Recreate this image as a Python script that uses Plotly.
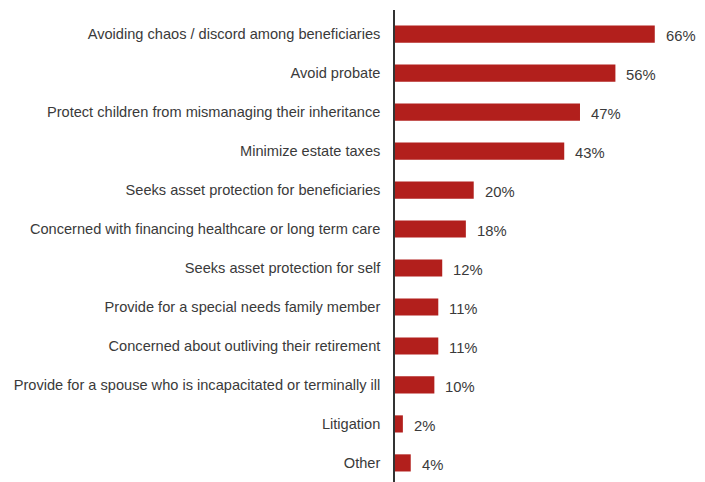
import plotly.graph_objects as go

categories = [
    "Avoiding chaos / discord among beneficiaries",
    "Avoid probate",
    "Protect children from mismanaging their inheritance",
    "Minimize estate taxes",
    "Seeks asset protection for beneficiaries",
    "Concerned with financing healthcare or long term care",
    "Seeks asset protection for self",
    "Provide for a special needs family member",
    "Concerned about outliving their retirement",
    "Provide for a spouse who is incapacitated or terminally ill",
    "Litigation",
    "Other",
]
values = [66, 56, 47, 43, 20, 18, 12, 11, 11, 10, 2, 4]
value_labels = [f"{v}%" for v in values]

BAR_COLOR = "#B21F1C"
FONT = "Liberation Sans, Arial, sans-serif"
TEXT_COLOR = "#3a3a3a"

fig = go.Figure(
    go.Bar(
        x=values,
        y=categories,
        orientation="h",
        marker=dict(color=BAR_COLOR, line=dict(width=0)),
        width=0.44,
        hoverinfo="skip",
    )
)

for cat, v, lab in zip(categories, values, value_labels):
    fig.add_annotation(
        x=v, y=cat, text=lab, showarrow=False,
        xanchor="left", xshift=9, yshift=-2,
        font=dict(family=FONT, size=14.8, color=TEXT_COLOR),
    )

fig.update_layout(
    width=705, height=482,
    margin=dict(l=395, r=3, t=10, b=0),
    paper_bgcolor="white", plot_bgcolor="white",
    showlegend=False,
    font=dict(family=FONT, size=14.6, color=TEXT_COLOR),
    xaxis=dict(range=[0, 78], visible=False),
    yaxis=dict(
        categoryorder="array", categoryarray=categories,
        range=[11.49, -0.62],
        showline=True, linecolor="#333333", linewidth=1.5,
        showgrid=False, zeroline=False, ticks="",
        ticklabelstandoff=10,
        tickfont=dict(family=FONT, size=14.6, color=TEXT_COLOR),
    ),
)

fig.write_html("out.html")
